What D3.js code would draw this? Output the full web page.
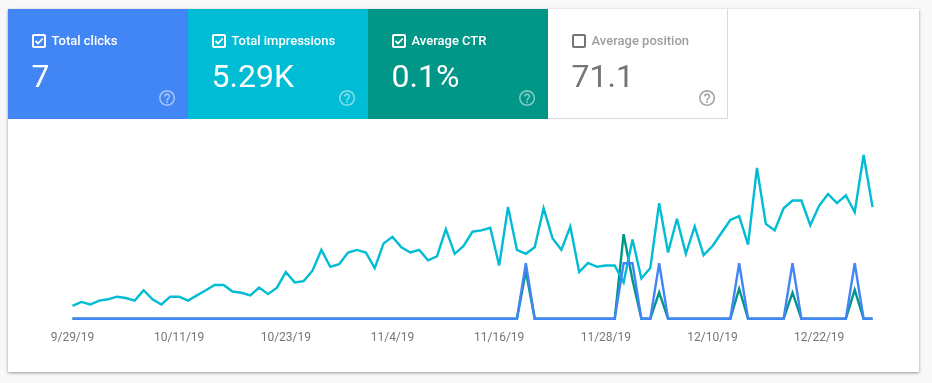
<!DOCTYPE html>
<html lang="en">
<head>
<meta charset="UTF-8">
<title>Performance</title>
<script src="https://d3js.org/d3.v7.min.js"></script>
<style>
	body { margin: 0; padding: 0; background: #f8f8f8; overflow: hidden; }
	svg { display: block; font-family: Roboto, sans-serif; will-change: transform; }
	.tick text { font-size: 12px; fill: #757575; }
</style>
</head>
<body>
<div id="chart"></div>
<script>
// one value per day, starting on firstDay
const firstDay = "9/29/19";
const tickLabels = ["9/29/19", "10/11/19", "10/23/19", "11/4/19", "11/16/19", "11/28/19", "12/10/19", "12/22/19"];

const impressions = [10, 13, 11, 14, 15, 17, 16, 14, 22, 15, 11, 17, 17, 14, 18, 22, 26, 26, 21, 20,
	18, 24, 19, 24, 36, 28, 29, 37, 53, 40, 42, 51, 53, 51, 39, 58, 63, 55, 51, 53,
	45, 48, 69, 50, 56, 67, 68, 70, 41, 86, 53, 50, 55, 85, 62, 53, 71, 36, 43, 40,
	41, 41, 28, 61, 31, 39, 89, 51, 77, 50, 71, 49, 56, 66, 76, 79, 57, 116, 73, 68,
	85, 91, 91, 72, 87, 96, 89, 95, 82, 126, 86];

const clicks = [0, 0, 0, 0, 0, 0, 0, 0, 0, 0, 0, 0, 0, 0, 0, 0, 0, 0, 0, 0,
	0, 0, 0, 0, 0, 0, 0, 0, 0, 0, 0, 0, 0, 0, 0, 0, 0, 0, 0, 0,
	0, 0, 0, 0, 0, 0, 0, 0, 0, 0, 0, 1, 0, 0, 0, 0, 0, 0, 0, 0,
	0, 0, 1, 1, 0, 0, 1, 0, 0, 0, 0, 0, 0, 0, 0, 1, 0, 0, 0, 0,
	0, 1, 0, 0, 0, 0, 0, 0, 1, 0, 0];

// percent
const ctr = [0, 0, 0, 0, 0, 0, 0, 0, 0, 0, 0, 0, 0, 0, 0, 0, 0, 0, 0, 0,
	0, 0, 0, 0, 0, 0, 0, 0, 0, 0, 0, 0, 0, 0, 0, 0, 0, 0, 0, 0,
	0, 0, 0, 0, 0, 0, 0, 0, 0, 0, 0, 2, 0, 0, 0, 0, 0, 0, 0, 0,
	0, 0, 3.57, 1.64, 0, 0, 1.12, 0, 0, 0, 0, 0, 0, 0, 0, 1.27, 0, 0, 0, 0,
	0, 1.1, 0, 0, 0, 0, 0, 0, 1.22, 0, 0];

const tileLabels = ["Total clicks", "Total impressions", "Average CTR", "Average position"];
const tileValues = ["7", "5.29K", "0.1%", "71.1"];
const tileColors = ["#4285f4", "#00bcd4", "#009688", "#ffffff"];
const tileChecked = [true, true, true, false];

const helpIcon = "M11 18h2v-2h-2v2zm1-16C6.48 2 2 6.48 2 12s4.48 10 10 10 10-4.48 10-10S17.52 2 12 2zm0 18c-4.41 0-8-3.59-8-8s3.59-8 8-8 8 3.59 8 8-3.59 8-8 8zm0-14c-2.21 0-4 1.79-4 4h2c0-1.1.9-2 2-2s2 .9 2 2c0 2-3 1.75-3 5h2c0-2.25 3-2.5 3-5 0-2.21-1.79-4-4-4z";

const width = 932, height = 383;
const card = { left: 8, top: 9, right: 919, bottom: 372 };
const tileW = 180, tileH = 110;

const svg = d3.select("#chart").append("svg")
	.attr("width", width)
	.attr("height", height);

const defs = svg.append("defs");
const shadow = defs.append("filter").attr("id", "shadow")
	.attr("x", "-2%").attr("y", "-2%").attr("width", "104%").attr("height", "106%");
shadow.append("feDropShadow")
	.attr("dx", 0).attr("dy", 1).attr("stdDeviation", 1.5)
	.attr("flood-color", "#000").attr("flood-opacity", 0.4);

svg.append("rect")
	.attr("x", card.left)
	.attr("y", card.top)
	.attr("width", card.right - card.left)
	.attr("height", card.bottom - card.top)
	.attr("fill", "#fff")
	.attr("filter", "url(#shadow)");

// tiles
const tile = svg.selectAll("g.tile")
	.data(tileLabels)
	.join("g")
	.attr("class", "tile")
	.attr("transform", (d, i) => `translate(${card.left + i * tileW},${card.top})`);

tile.append("rect")
	.attr("width", tileW)
	.attr("height", tileH)
	.attr("fill", (d, i) => tileColors[i]);

// the unchecked tile has a thin border on its open sides
svg.append("path")
	.attr("d", `M${card.left + 4 * tileW - 0.5},${card.top}V${card.top + tileH - 0.5}H${card.left + 3 * tileW}`)
	.attr("fill", "none")
	.attr("stroke", "#dadada");

const fg = (d, i) => tileChecked[i] ? "#fff" : "#757575";

tile.append("rect")
	.attr("x", 25)
	.attr("y", 26)
	.attr("width", 12)
	.attr("height", 12)
	.attr("rx", 1)
	.attr("fill", "none")
	.attr("stroke", fg)
	.attr("stroke-width", 2);

tile.filter((d, i) => tileChecked[i]).append("path")
	.attr("d", "M27.5,32 L30,34.5 L34.8,29.5")
	.attr("fill", "none")
	.attr("stroke", "#fff")
	.attr("stroke-width", 1.8);

tile.append("text")
	.attr("x", 43.5)
	.attr("y", 36)
	.attr("font-size", 13)
	.attr("font-weight", 500)
	.attr("fill", (d, i) => tileChecked[i] ? "#fff" : "#9e9e9e")
	.text(d => d);

tile.append("text")
	.attr("x", 23.5)
	.attr("y", 78)
	.attr("font-size", 32)
	.attr("fill", fg)
	.text((d, i) => tileValues[i]);

tile.append("path")
	.attr("d", helpIcon)
	.attr("transform", "translate(149.5,79.5) scale(0.8)")
	.attr("fill", fg)
	.attr("fill-opacity", (d, i) => tileChecked[i] ? 0.5 : 0.65);

// chart
const parseDay = d3.utcParse("%m/%d/%y");
const start = parseDay(firstDay);
const days = impressions.map((d, i) => d3.utcDay.offset(start, i));

const x = d3.scaleUtc()
	.domain([days[0], days[days.length - 1]])
	.range([72.5, 872.5]);

// each metric has its own y scale, as in Search Console
const yImpressions = d3.scaleLinear().domain([0, 140]).range([318.8, 136.8]);
const yClicks = d3.scaleLinear().domain([0, 1]).range([318.8, 263.3]);
const yCtr = d3.scaleLinear().domain([0, 4]).range([318.8, 224]);

const line = y => d3.line()
	.x((d, i) => x(days[i]))
	.y(d => y(d));

const plots = [
	{ values: ctr, y: yCtr, color: "#009688" },
	{ values: impressions, y: yImpressions, color: "#00bcd4" },
	{ values: clicks, y: yClicks, color: "#4285f4" }
];

svg.selectAll("path.series")
	.data(plots)
	.join("path")
	.attr("class", "series")
	.attr("fill", "none")
	.attr("stroke", d => d.color)
	.attr("stroke-width", 2.4)
	.attr("stroke-linejoin", "miter")
	.attr("d", d => line(d.y)(d.values));

const axis = d3.axisBottom(x)
	.tickValues(tickLabels.map(parseDay))
	.tickSize(0)
	.tickPadding(0)
	.tickFormat((d, i) => tickLabels[i]);

svg.append("g")
	.attr("transform", "translate(-0.5,332)")
	.call(axis)
	.call(g => g.select(".domain").remove())
	.selectAll("text")
	.attr("font-family", "Roboto, sans-serif");
</script>
</body>
</html>
